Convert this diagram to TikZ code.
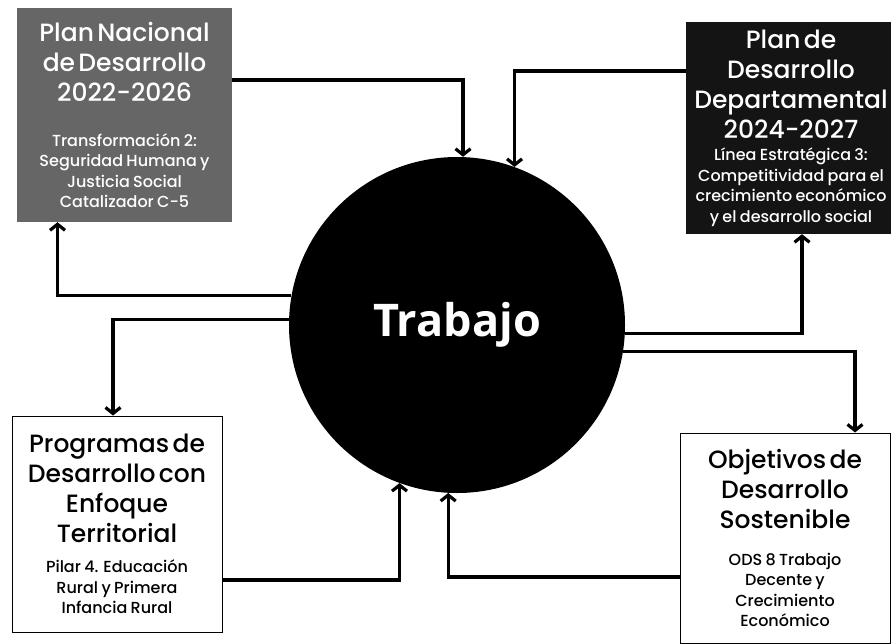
\documentclass[tikz,border=0pt]{standalone}
\usepackage{fontspec}
\setmainfont{Poppins}[UprightFont={* Medium}]
\newfontfamily\trabfont{Open Sans}
\usetikzlibrary{arrows.meta,positioning}
\newcommand{\titlefont}{\fontsize{25}{30}\selectfont}
\newcommand{\subfont}{\fontsize{16}{20.5}\selectfont}
\newcommand{\boxtext}[3]{{\titlefont #2\par}\vspace{#1}{\subfont #3\par}}

\begin{document}
\begin{tikzpicture}[x=1pt,y=-1pt,>={Straight Barb[length=6pt,width=15pt]},
 box/.style={rectangle,inner sep=0pt,align=center,text width=205pt},
 greybox/.style={box,fill=black!60,text=white},
 blackbox/.style={box,fill=black!92,text=white},
 whitebox/.style={box,draw=black,line width=1pt,fill=white,text=black},
 conn/.style={->,line width=3.2pt}]
 \useasboundingbox (0,0) rectangle (891,643);
 \node[circle,fill=black,text=white,minimum size=336pt,inner sep=0pt,
  font=\trabfont\bfseries\fontsize{45}{54}\selectfont] (trab) at (457,325) {Trabajo};
 \node[greybox,minimum width=215pt,minimum height=214pt] (pnd) at (124.5,115)
  {\boxtext{24pt}{Plan Nacional\\de Desarrollo\\2022-2026}{Transformación 2:\\Seguridad Humana y\\Justicia Social\\Catalizador C-5}};
 \node[blackbox,minimum width=210pt,minimum height=212pt] (pdd) at (791,128)
  {\boxtext{2pt}{Plan de\\Desarrollo\\Departamental\\2024-2027}{Línea Estratégica 3:\\Competitividad para el\\crecimiento económico\\y el desarrollo social}};
 \node[whitebox,minimum width=210pt,minimum height=216pt] (pdet) at (117,524)
  {\boxtext{10pt}{Programas de\\Desarrollo con\\Enfoque\\Territorial}{Pilar 4. Educación\\Rural y Primera\\Infancia Rural}};
 \node[whitebox,minimum width=210pt,minimum height=210pt] (ods) at (785,538)
  {\boxtext{16pt}{Objetivos de\\Desarrollo\\Sostenible}{ODS 8 Trabajo\\Decente y\\Crecimiento\\Económico}};
 % ida y vuelta con cada plan
 \draw[conn] ([yshift=35pt]pnd.east) -| ([xshift=6pt]trab.north);
 \draw[conn] ([yshift=57pt]pdd.west) -| (trab.70);
 \draw[conn] (trab.170) -| ([xshift=-67pt]pnd.south);
 \draw[conn] (trab.178) -| ([xshift=-4pt]pdet.north);
 \draw[conn] ([yshift=-56pt]pdet.east) -| (trab.250);
 \draw[conn] ([yshift=-39pt]ods.west) -| (trab.267);
 \draw[conn] (trab.-3) -| ([xshift=11pt]pdd.south);
 \draw[conn] (trab.-9) -| ([xshift=70pt]ods.north);
\end{tikzpicture}
\end{document}
